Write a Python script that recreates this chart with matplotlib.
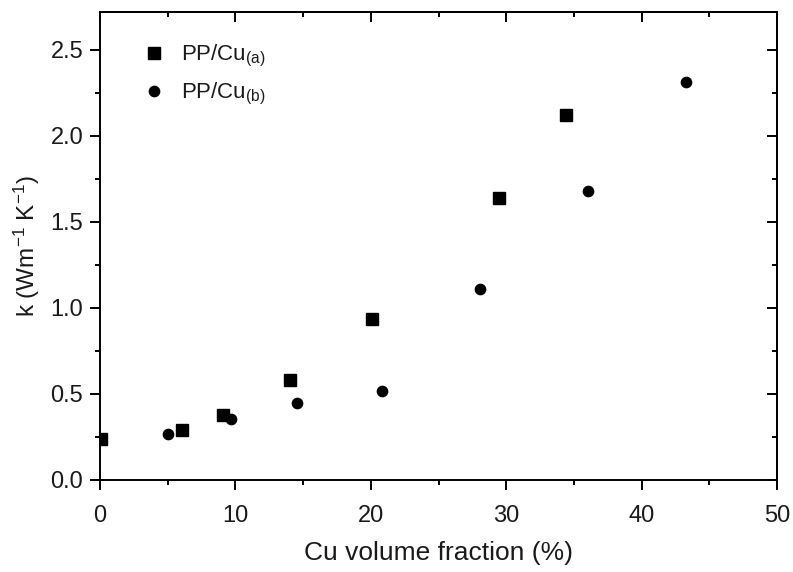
import matplotlib
matplotlib.use('Agg')
import matplotlib.pyplot as plt
from matplotlib.ticker import MultipleLocator

plt.rcParams['font.family'] = ['Liberation Sans', 'DejaVu Sans']
plt.rcParams['mathtext.fontset'] = 'custom'
plt.rcParams['mathtext.rm'] = 'Liberation Sans'
plt.rcParams['mathtext.it'] = 'Liberation Sans:italic'

# data
x_a = [0.07, 6.08, 9.1, 14.03, 20.06, 29.5, 34.4]
k_a = [0.24, 0.29, 0.38, 0.58, 0.934, 1.638, 2.12]
x_b = [5.05, 9.68, 14.55, 20.85, 28.07, 36.07, 43.3]
k_b = [0.27, 0.353, 0.45, 0.517, 1.109, 1.682, 2.316]
labels = [r'PP/Cu$_{\rm (a)}$', r'PP/Cu$_{\rm (b)}$']

txt = '#1a1a1a'
W, H = 793, 572
fig = plt.figure(figsize=(W / 100, H / 100), dpi=100)
# spines at x 100..777 px, y 12..480 px
ax = fig.add_axes([100 / W, (H - 480) / H, 677 / W, 468 / H])

ax.plot(x_a, k_a, ls='none', marker='s', ms=8.6, color='black', label=labels[0])
ax.plot(x_b, k_b, ls='none', marker='o', ms=7.4, color='black', label=labels[1])

ax.set_xlim(0, 50)
ax.set_ylim(0, 2.72)
ax.xaxis.set_major_locator(MultipleLocator(10))
ax.xaxis.set_minor_locator(MultipleLocator(5))
ax.yaxis.set_major_locator(MultipleLocator(0.5))
ax.yaxis.set_minor_locator(MultipleLocator(0.25))
ax.yaxis.set_major_formatter(plt.FuncFormatter(lambda v, p: f'{v:.1f}'))
ax.tick_params(which='major', direction='out', length=7, width=1.4, labelsize=17, labelcolor=txt)
ax.tick_params(which='minor', direction='out', length=3.5, width=1.4)
ax.tick_params(axis='x', which='major', pad=11)
ax.tick_params(axis='y', which='major', pad=5)

# mirrored ticks pointing inward on top and right
top = ax.secondary_xaxis('top')
top.xaxis.set_major_locator(MultipleLocator(10))
top.xaxis.set_minor_locator(MultipleLocator(5))
top.tick_params(which='major', direction='in', length=7, width=1.4, labeltop=False)
top.tick_params(which='minor', direction='in', length=3.5, width=1.4)
right = ax.secondary_yaxis('right')
right.yaxis.set_major_locator(MultipleLocator(0.5))
right.yaxis.set_minor_locator(MultipleLocator(0.25))
right.tick_params(which='major', direction='in', length=7, width=1.4, labelright=False)
right.tick_params(which='minor', direction='in', length=3.5, width=1.4)

for sp in list(ax.spines.values()) + [top.spines['top'], right.spines['right']]:
    sp.set_linewidth(1.4)

ax.set_xlabel('Cu volume fraction (%)', fontsize=19, color=txt)
ax.xaxis.set_label_coords(0.5, -0.13)
ax.set_ylabel(r'k (Wm$^{-1}$ K$^{-1}$)', fontsize=17.5, color=txt)
ax.yaxis.set_label_coords(-0.086, 0.5)

leg = ax.legend(loc='upper left', bbox_to_anchor=(0.05, 0.953), frameon=False, fontsize=16,
                handletextpad=0.72, labelspacing=0.55, handlelength=1.0, borderaxespad=0)
for t in leg.get_texts():
    t.set_color(txt)

fig.savefig('out.png', dpi=100)
